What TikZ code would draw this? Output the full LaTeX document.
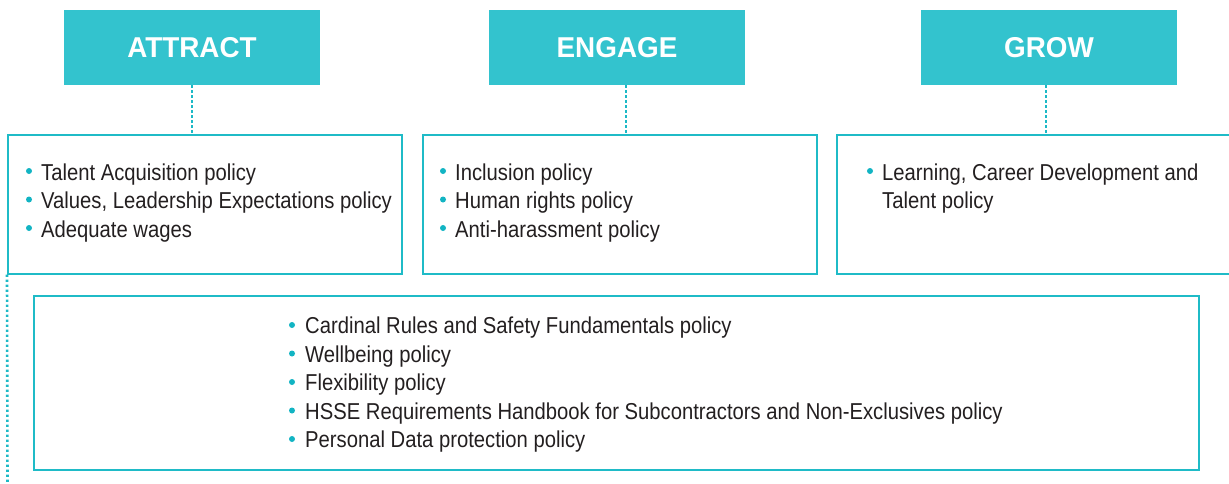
\documentclass[tikz,border=0pt]{standalone}
\usepackage{fontspec}
\setmainfont{Liberation Sans}[FakeStretch=0.88]
\newfontfamily\hdrfont{Liberation Sans}[FakeStretch=0.97]
\definecolor{hdrfill}{HTML}{33C3CE}
\definecolor{boxline}{HTML}{1FBBC7}
\definecolor{dotcol}{HTML}{12B4C3}
\definecolor{txtcol}{HTML}{231F20}
\definecolor{conncol}{HTML}{1CB9C6}
\begin{document}
\begin{tikzpicture}[x=1pt,y=-1pt,
  hdr/.style={fill=hdrfill, draw=none, minimum width=256pt, minimum height=75pt, inner sep=0pt,
    text=white, font=\hdrfont\fontsize{28.7}{31}\selectfont\bfseries},
  polbox/.style={draw=boxline, line width=2pt, fill=none, inner sep=0pt},
  itemtxt/.style={anchor=base west, inner sep=0pt, text=txtcol, font=\fontsize{23}{28.5}\selectfont},
  bulletdot/.style={circle, fill=dotcol, draw=none, minimum size=6pt, inner sep=0pt},
  conn/.style={conncol, line width=2.6pt, dash pattern=on 2.4pt off 2.6pt}]
\useasboundingbox (0,0) rectangle (1229,483);
% headers
\node[hdr] (h1) at (192,47.5) {ATTRACT};
\node[hdr] (h2) at (617,47.5) {ENGAGE};
\node[hdr] (h3) at (1049,47.5) {GROW};
% policy boxes
\node[polbox, minimum width=394pt, minimum height=139pt] (b1) at (205,204) {};
\node[polbox, minimum width=394pt, minimum height=139pt] (b2) at (620,204) {};
\node[polbox, minimum width=394pt, minimum height=139pt] (b3) at (1034,204) {};
\node[polbox, minimum width=1165pt, minimum height=174pt] (b4) at (616.5,383) {};
% connectors
\draw[conn] (h1.south) -- (h1.south |- b1.north);
\draw[conn] ([xshift=9pt]h2.south) -- ([xshift=9pt]h2.south |- b2.north);
\draw[conn] ([xshift=-3pt]h3.south) -- ([xshift=-3pt]h3.south |- b3.north);
\coordinate (lend) at (7.5,483);
\draw[conn] (b1.south west) -- (lend);
% box 1 items
\node[bulletdot] (d11) at (29,171) {};
\node[itemtxt] (t11) at (41,180) {Talent Acquisition policy};
\node[bulletdot] (d12) at (29,199.5) {};
\node[itemtxt] (t12) at (41,208.5) {Values, Leadership Expectations policy};
\node[bulletdot] (d13) at (29,228) {};
\node[itemtxt] (t13) at (41,237) {Adequate wages};
% box 2 items
\node[bulletdot] (d21) at (443,171) {};
\node[itemtxt] (t21) at (455,180) {Inclusion policy};
\node[bulletdot] (d22) at (443,199.5) {};
\node[itemtxt] (t22) at (455,208.5) {Human rights policy};
\node[bulletdot] (d23) at (443,228) {};
\node[itemtxt] (t23) at (455,237) {Anti-harassment policy};
% box 3 items
\node[bulletdot] (d31) at (870,171) {};
\node[itemtxt] (t31) at (882,180) {Learning, Career Development and};
\node[itemtxt] (t32) at (882,208.5) {Talent policy};
% bottom box items
\node[bulletdot] (d41) at (292,325) {};
\node[itemtxt] (t41) at (305,333.5) {Cardinal Rules and Safety Fundamentals policy};
\node[bulletdot] (d42) at (292,353.5) {};
\node[itemtxt] (t42) at (305,362) {Wellbeing policy};
\node[bulletdot] (d43) at (292,382) {};
\node[itemtxt] (t43) at (305,390.5) {Flexibility policy};
\node[bulletdot] (d44) at (292,410.5) {};
\node[itemtxt] (t44) at (305,419) {HSSE Requirements Handbook for Subcontractors and Non-Exclusives policy};
\node[bulletdot] (d45) at (292,439) {};
\node[itemtxt] (t45) at (305,447.5) {Personal Data protection policy};
\end{tikzpicture}
\end{document}
